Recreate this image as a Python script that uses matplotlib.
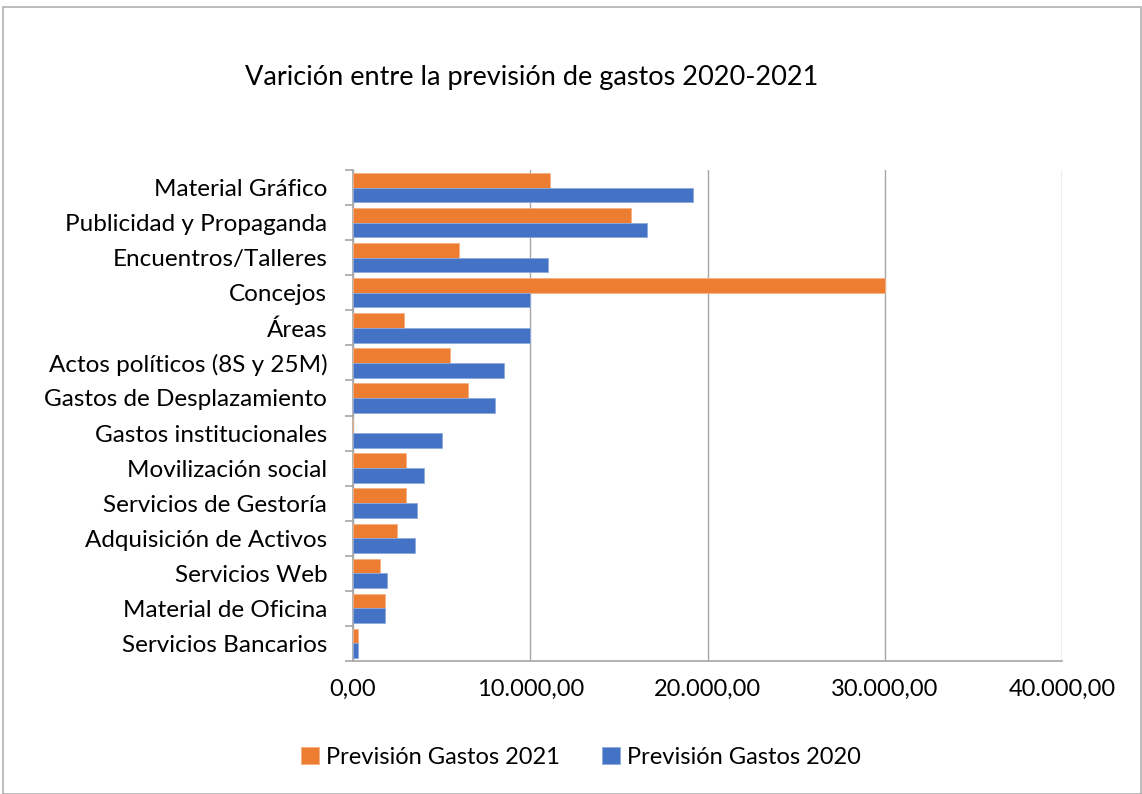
# Gráfico de barras horizontais: previsão de gastos 2020 x 2021
import numpy as np
import matplotlib.pyplot as plt
from matplotlib.patches import Rectangle
from matplotlib.ticker import FuncFormatter, FixedLocator

categorias = ["Material Gráfico", "Publicidad y Propaganda", "Encuentros/Talleres",
              "Concejos", "Áreas", "Actos políticos (8S y 25M)", "Gastos de Desplazamiento",
              "Gastos institucionales", "Movilización social", "Servicios de Gestoría",
              "Adquisición de Activos", "Servicios Web", "Material de Oficina",
              "Servicios Bancarios"]
gastos_2021 = [11100, 15700, 6000, 30000, 2900, 5500, 6500, 0, 3000, 3000, 2500, 1500, 1800, 300]
gastos_2020 = [19200, 16600, 11000, 10000, 10000, 8500, 8000, 5000, 4000, 3600, 3500, 1900, 1800, 300]

laranja = "#ED7D31"
azul = "#4472C4"
cinza = "#A6A6A6"

plt.rcParams["font.family"] = ["Lato", "DejaVu Sans"]

fig = plt.figure(figsize=(11.42, 7.94), dpi=100)
ax = fig.add_axes([353 / 1142, 1 - 661 / 794, (1062 - 353) / 1142, (661 - 170) / 794])

# moldura do gráfico
fig.patches.append(Rectangle((3 / 1142, 0), 1 - 4 / 1142, 1 - 7 / 794, transform=fig.transFigure,
                             fill=False, edgecolor="#B0B0B0", linewidth=1.2))

y = np.arange(len(categorias))
h = 0.42
ax.barh(y - h / 2, gastos_2021, height=h, color=laranja, edgecolor="#F4B183", linewidth=0.6,
        label="Previsión Gastos 2021", zorder=3)
ax.barh(y + h / 2, gastos_2020, height=h, color=azul, edgecolor="#8FAADC", linewidth=0.6,
        label="Previsión Gastos 2020", zorder=3)

ax.set_xlim(0, 40000)
ax.set_ylim(len(categorias) - 0.5, -0.5)
ax.set_xticks([0, 10000, 20000, 30000, 40000])
ax.xaxis.set_major_formatter(FuncFormatter(
    lambda v, p: f"{v:,.2f}".replace(",", "X").replace(".", ",").replace("X", ".")))
ax.set_yticks(y)
ax.set_yticklabels(categorias)
ax.yaxis.set_minor_locator(FixedLocator(np.arange(-0.5, len(categorias), 1)))

ax.grid(axis="x", color=cinza, linewidth=1, zorder=0)
for lado in ["top", "right"]:
    ax.spines[lado].set_visible(False)
ax.spines["left"].set_color(cinza)
ax.spines["bottom"].set_color(cinza)
ax.spines["left"].set_linewidth(1.2)
ax.spines["bottom"].set_linewidth(1.2)

ax.tick_params(axis="y", which="major", length=0, labelsize=17.5, pad=18.5)
ax.tick_params(axis="y", which="minor", length=6, width=1.2, color=cinza)
ax.tick_params(axis="x", length=0, labelsize=17, pad=13)

fig.text(532 / 1142, 1 - 78 / 794, "Varición entre la previsión de gastos 2020-2021",
         ha="center", va="center", fontsize=19.5)

fig.legend(loc="center", bbox_to_anchor=(581 / 1142, 1 - 757 / 794), ncol=2, frameon=False,
           fontsize=17, handlelength=0.75, handleheight=0.75, handletextpad=0.3, columnspacing=1.8)

fig.savefig("out.png", dpi=100)
